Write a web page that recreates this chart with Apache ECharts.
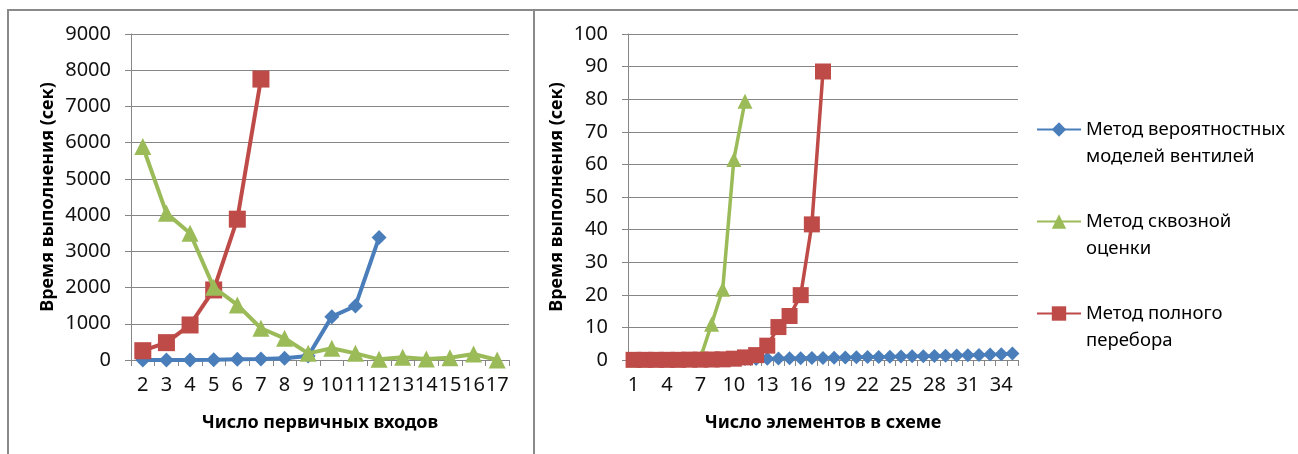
<!DOCTYPE html>
<html>
<head>
<meta charset="utf-8">
<script src="https://cdn.jsdelivr.net/npm/echarts@6/dist/echarts.min.js"></script>
<style>
html, body { margin: 0; padding: 0; background: #fff; }
#main { width: 1298px; height: 454px; }
</style>
</head>
<body>
<div id="main"></div>
<script>
// категории
var inputCats = ['2', '3', '4', '5', '6', '7', '8', '9', '10', '11', '12', '13', '14', '15', '16', '17'];
var elemCats = ['1', '2', '3', '4', '5', '6', '7', '8', '9', '10', '11', '12', '13', '14', '15', '16', '17', '18',
    '19', '20', '21', '22', '23', '24', '25', '26', '27', '28', '29', '30', '31', '32', '33', '34', '35'];

// левый график - число первичных входов
var probInputs = [0, 0, 0, 5, 20, 25, 50, 110, 1197, 1492, 3380];
var throughInputs = [5894, 4053, 3500, 2009, 1520, 876, 599, 184, 323, 184, 18, 74, 28, 64, 166, 0];
var fullInputs = [257, 479, 967, 1934, 3888, 7756];

// правый график - число элементов в схеме
var probElems = [0.01, 0.02, 0.03, 0.05, 0.07, 0.09, 0.12, 0.15, 0.18, 0.22, 0.27, 0.32, 0.38, 0.45, 0.5, 0.55,
    0.6, 0.65, 0.72, 0.78, 0.84, 0.9, 0.95, 1.0, 1.06, 1.12, 1.18, 1.24, 1.3, 1.38, 1.45, 1.55, 1.65, 1.8, 2.0];
var throughElems = [0.05, 0.1, 0.15, 0.2, 0.3, 0.4, 0.6, 11.0, 21.7, 61.5, 79.4];
var fullElems = [0.05, 0.05, 0.05, 0.05, 0.05, 0.1, 0.1, 0.15, 0.2, 0.4, 0.8, 1.5, 4.4, 10.1, 13.5, 19.9, 41.6, 88.5];

var names = ['Метод вероятностных моделей вентилей', 'Метод сквозной оценки', 'Метод полного перебора'];
var legendLines = {
    'Метод вероятностных моделей вентилей': 'Метод вероятностных\nмоделей вентилей',
    'Метод сквозной оценки': 'Метод сквозной\nоценки',
    'Метод полного перебора': 'Метод полного\nперебора'
};

var FONT = 'Noto Sans';
var AXIS_GRAY = '#868686';
var BLUE = '#4a7ebb', GREEN = '#9bbb59', RED = '#be4b48';

var chart = echarts.init(document.getElementById('main'));

function xAx(idx, cats, name, labelInterval) {
    return {
        type: 'category',
        gridIndex: idx,
        data: cats,
        boundaryGap: true,
        name: name,
        nameLocation: 'middle',
        nameGap: 54,
        nameTextStyle: { fontFamily: FONT, fontSize: 18, fontWeight: 'bold', color: '#000' },
        axisLine: { show: true, lineStyle: { color: AXIS_GRAY, width: 1 } },
        axisTick: { show: true, interval: 0, length: 6, lineStyle: { color: AXIS_GRAY } },
        axisLabel: { interval: labelInterval, margin: 15, fontFamily: FONT, fontSize: 20, color: '#111' },
        splitLine: { show: false }
    };
}

function yAx(idx, max, step, gap) {
    return {
        type: 'value',
        gridIndex: idx,
        min: 0,
        max: max,
        interval: step,
        name: 'Время выполнения (сек)',
        nameLocation: 'middle',
        nameGap: gap,
        nameTextStyle: { fontFamily: FONT, fontSize: 18, fontWeight: 'bold', color: '#000' },
        axisLine: { show: true, lineStyle: { color: AXIS_GRAY, width: 1 } },
        axisTick: { show: true, length: 6, lineStyle: { color: AXIS_GRAY } },
        axisLabel: {
            margin: 20, fontFamily: FONT, fontSize: 20, color: '#111',
            formatter: function (v) { return String(v); }
        },
        splitLine: { show: true, lineStyle: { color: AXIS_GRAY, width: 1 } }
    };
}

function line(name, idx, data, color, symbol, size, width, z) {
    return {
        name: name,
        type: 'line',
        xAxisIndex: idx,
        yAxisIndex: idx,
        data: data,
        symbol: symbol,
        symbolSize: size,
        showAllSymbol: true,
        z: z,
        lineStyle: { color: color, width: width },
        itemStyle: { color: color },
        emphasis: { disabled: true },
        animation: false
    };
}

var option = {
    backgroundColor: '#fff',
    animation: false,
    graphic: [
        { type: 'rect', shape: { x: 8, y: 10, width: 526, height: 460 },
          style: { fill: 'none', stroke: '#8a8a8a', lineWidth: 2 }, silent: true },
        { type: 'line', shape: { x1: 534, y1: 10, x2: 1300, y2: 10 },
          style: { stroke: '#8a8a8a', lineWidth: 2 }, silent: true }
    ],
    legend: {
        orient: 'vertical',
        left: 1031,
        top: 84,
        itemWidth: 44,
        itemHeight: 18,
        itemGap: 11,
        data: names,
        formatter: function (n) { return '\n' + legendLines[n]; },
        textStyle: { fontFamily: FONT, fontSize: 18.5, color: '#000', lineHeight: 27 }
    },
    grid: [
        { left: 131, top: 34, width: 378, height: 326 },
        { left: 628, top: 34, width: 390, height: 326 }
    ],
    xAxis: [
        xAx(0, inputCats, 'Число первичных входов', 0),
        xAx(1, elemCats, 'Число элементов в схеме', 2)
    ],
    yAxis: [
        yAx(0, 9000, 1000, 74),
        yAx(1, 100, 10, 62)
    ],
    series: [
        line(names[0], 0, probInputs, BLUE, 'diamond', 15, 4, 2),
        line(names[2], 0, fullInputs, RED, 'rect', 17, 4, 3),
        line(names[1], 0, throughInputs, GREEN, 'triangle', 17, 4, 4),
        line(names[0], 1, probElems, BLUE, 'diamond', 14, 3.5, 2),
        line(names[1], 1, throughElems, GREEN, 'triangle', 15, 3.5, 3),
        line(names[2], 1, fullElems, RED, 'rect', 16, 3.5, 4)
    ]
};

chart.setOption(option);
</script>
</body>
</html>
